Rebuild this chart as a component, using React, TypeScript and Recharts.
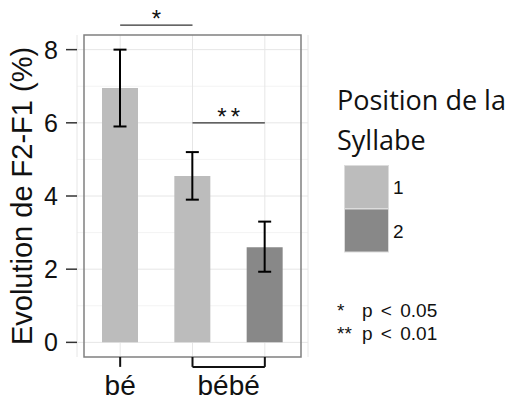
import React from 'react';
import {
  ComposedChart,
  Bar,
  Cell,
  XAxis,
  YAxis,
  CartesianGrid,
  ErrorBar,
  ReferenceLine,
  ReferenceArea,
  Label,
} from 'recharts';

// ---- data ----
const barKeys = ['bé-1', 'bébé-1', 'bébé-2'];
const words = ['bé', 'bébé', 'bébé'];
const syllablePositions = ['1', '1', '2'];
const means = [6.95, 4.55, 2.6];
const errLow = [1.05, 0.65, 0.67];
const errHigh = [1.05, 0.65, 0.7];

const yTicks = [0, 2, 4, 6, 8];
const yMinorTicks = [1, 3, 5, 7];
const yDomain: [number, number] = [-0.4, 8.4];

const legendTitle = ['Position de la', 'Syllabe'];
const legendLevels = ['1', '2'];

const sigMarks = ['*', '**'];
const sigTexts = ['p < 0.05', 'p < 0.01'];
// significance brackets
const sig1 = { from: 'bé-1', to: 'bébé-1', y: 8.67, mark: '*' };
const sig2 = { from: 'bébé-1', to: 'bébé-2', y: 6.0, mark: '**' };
const bracketBottom = -0.67;

const levelColors: Record<string, string> = { '1': '#bcbcbc', '2': '#888888' };

const data = barKeys.map((k, i) => ({
  key: k,
  word: words[i],
  position: syllablePositions[i],
  mean: means[i],
  err: [errLow[i], errHigh[i]],
}));

const ARIAL = 'Liberation Sans, Arial, sans-serif';
const SANS = '"Open Sans", sans-serif';

const getVB = (p: any) => p.viewBox ?? p;

const sigLabel = (mark: string, spacing: number) => (p: any) => {
  const vb = getVB(p);
  return (
    <text
      x={vb.x + vb.width / 2 + spacing / 2}
      y={vb.y + 2}
      textAnchor="middle"
      fontSize={24}
      fontFamily={ARIAL}
      letterSpacing={spacing}
      fill="#111"
    >
      {mark}
    </text>
  );
};

const wordLabel = (word: string) => (p: any) => {
  const vb = getVB(p);
  return (
    <text
      x={vb.x + vb.width / 2}
      y={vb.y + vb.height + 28}
      textAnchor="middle"
      fontSize={28}
      fontFamily={ARIAL}
      fill="#111"
    >
      {word}
    </text>
  );
};

const YTitle = (p: any) => {
  const vb = getVB(p);
  const cx = vb.x + 32;
  const cy = vb.y + vb.height / 2;
  return (
    <text
      x={cx}
      y={cy}
      transform={`rotate(-90 ${cx} ${cy})`}
      textAnchor="middle"
      fontSize={29}
      fontFamily={ARIAL}
      fill="#111"
    >
      Evolution de F2-F1 (%)
    </text>
  );
};

export default function App() {
  return (
    <div style={{ position: 'absolute', left: 0, top: 0, width: 512, height: 400, background: '#fff' }}>
      <ComposedChart
        width={512}
        height={400}
        data={data}
        margin={{ top: 35, right: 204, bottom: 43, left: 0 }}
      >
        <CartesianGrid horizontalValues={yMinorTicks} vertical={false} stroke="#f3f3f3" strokeWidth={1} />
        <CartesianGrid horizontalValues={yTicks} stroke="#e6e6e6" strokeWidth={1} />
        <XAxis dataKey="key" type="category" hide padding={{ left: 7, right: 7 }} />
        <YAxis
          type="number"
          domain={yDomain}
          ticks={yTicks}
          width={77}
          axisLine={false}
          tickSize={11}
          tickMargin={8}
          allowDataOverflow
          tick={{ fontSize: 25, fill: '#111', fontFamily: ARIAL }}
          tickLine={{ stroke: '#333', strokeWidth: 1.5 }}
        >
          <Label content={YTitle} />
        </YAxis>
        <Bar dataKey="mean" barSize={36} isAnimationActive={false}>
          {data.map((d) => (
            <Cell key={d.key} fill={levelColors[d.position]} />
          ))}
          <ErrorBar dataKey="err" width={6.5} stroke="#000" strokeWidth={2} isAnimationActive={false} />
        </Bar>
        <ReferenceArea
          y1={yDomain[0]}
          y2={yDomain[1]}
          fill="none"
          fillOpacity={0}
          stroke="#808080"
          strokeWidth={1.5}
          ifOverflow="visible"
        />
        {/* significance brackets */}
        <ReferenceLine
          segment={[{ x: sig1.from, y: sig1.y }, { x: sig1.to, y: sig1.y }]}
          stroke="#333"
          strokeWidth={1.3}
          ifOverflow="visible"
          label={sigLabel(sig1.mark, 0)}
        />
        <ReferenceLine
          segment={[{ x: sig2.from, y: sig2.y }, { x: sig2.to, y: sig2.y }]}
          stroke="#333"
          strokeWidth={1.3}
          ifOverflow="visible"
          label={sigLabel(sig2.mark, 4)}
        />
        {/* x-axis grouping ticks / bracket */}
        <ReferenceLine
          segment={[{ x: barKeys[0], y: yDomain[0] }, { x: barKeys[0], y: bracketBottom }]}
          stroke="#111"
          strokeWidth={2}
          ifOverflow="visible"
          label={wordLabel(words[0])}
        />
        <ReferenceLine
          segment={[{ x: barKeys[1], y: yDomain[0] }, { x: barKeys[1], y: bracketBottom }]}
          stroke="#111"
          strokeWidth={2}
          ifOverflow="visible"
        />
        <ReferenceLine
          segment={[{ x: barKeys[2], y: yDomain[0] }, { x: barKeys[2], y: bracketBottom }]}
          stroke="#111"
          strokeWidth={2}
          ifOverflow="visible"
        />
        <ReferenceLine
          segment={[{ x: barKeys[1], y: bracketBottom }, { x: barKeys[2], y: bracketBottom }]}
          stroke="#111"
          strokeWidth={2}
          ifOverflow="visible"
          label={wordLabel(words[1])}
        />
      </ComposedChart>
      <svg
        width={512}
        height={400}
        style={{ position: 'absolute', left: 0, top: 0, pointerEvents: 'none' }}
      >
        {legendTitle.map((t, i) => (
          <text key={t} x={337} y={110 + i * 40} fontSize={27} fontFamily={SANS} fill="#111">
            {t}
          </text>
        ))}
        {legendLevels.map((lv, i) => (
          <g key={lv}>
            <rect
              x={344.5}
              y={165.5 + i * 43.5}
              width={44}
              height={43}
              fill={levelColors[lv]}
              stroke="#dcdcdc"
              strokeWidth={1}
            />
            <text x={393} y={194 + i * 43.5} fontSize={19} fontFamily={ARIAL} fill="#111">
              {lv}
            </text>
          </g>
        ))}
        {sigMarks.map((m, i) => (
          <g key={m}>
            <text x={337} y={317 + i * 23} fontSize={19} fontFamily={ARIAL} fill="#111">
              {m}
            </text>
            <text x={362} y={317 + i * 23} fontSize={19} fontFamily={ARIAL} wordSpacing={3} fill="#111">
              {sigTexts[i]}
            </text>
          </g>
        ))}
      </svg>
    </div>
  );
}
